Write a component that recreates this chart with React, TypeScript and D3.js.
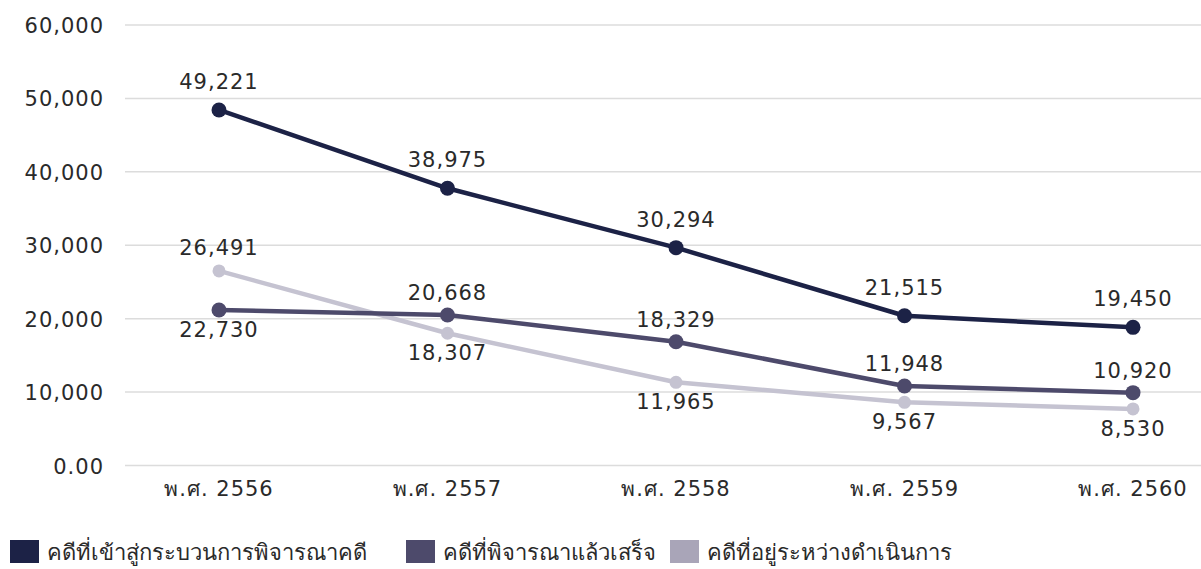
import React, { useEffect, useRef } from 'react'
import * as d3 from 'd3'

// years on the x axis
const years = ['พ.ศ. 2556', 'พ.ศ. 2557', 'พ.ศ. 2558', 'พ.ศ. 2559', 'พ.ศ. 2560']

// plotted values
const intake = [48430, 37760, 29670, 20400, 18820]
const finished = [21180, 20500, 16860, 10830, 9920]
const pending = [26500, 18010, 11330, 8610, 7700]

// the numbers written next to each point
const intakeLabels = ['49,221', '38,975', '30,294', '21,515', '19,450']
const finishedLabels = ['22,730', '20,668', '18,329', '11,948', '10,920']
const pendingLabels = ['26,491', '18,307', '11,965', '9,567', '8,530']

const yTicks = [0, 10000, 20000, 30000, 40000, 50000, 60000]
const yTickLabels = ['0.00', '10,000', '20,000', '30,000', '40,000', '50,000', '60,000']

const seriesNames = [
  'คดีที่เข้าสู่กระบวนการพิจารณาคดี',
  'คดีที่พิจารณาแล้วเสร็จ',
  'คดีที่อยู่ระหว่างดำเนินการ'
]

const W = 1201
const H = 569
const FONT = '"DejaVu Sans", sans-serif'

export default function App() {
  const ref = useRef<SVGSVGElement>(null)

  useEffect(() => {
    const svg = d3.select(ref.current)
    svg.selectAll('*').remove()

    let x = d3.scalePoint().domain(years).range([219, 1133])
    let y = d3.scaleLinear().domain([0, 60000]).range([465.5, 25])

    // grid
    svg.append('g').selectAll('line').data(yTicks).join('line')
      .attr('x1', 125).attr('x2', W)
      .attr('y1', d => y(d)).attr('y2', d => y(d))
      .attr('stroke', '#dcdcdc').attr('stroke-width', 1.5)

    svg.append('g').selectAll('text').data(yTicks).join('text')
      .text((d, i) => yTickLabels[i])
      .attr('x', 104).attr('y', d => y(d) + 8)
      .attr('text-anchor', 'end')
      .attr('font-size', 21).attr('letter-spacing', 1)
      .attr('fill', '#2a2a2a').style('font-family', FONT)

    svg.append('g').selectAll('text').data(years).join('text')
      .text(d => d)
      .attr('x', d => x(d)).attr('y', 496)
      .attr('text-anchor', 'middle')
      .attr('font-size', 21).attr('letter-spacing', 1)
      .attr('fill', '#2a2a2a').style('font-family', FONT)

    let series = [
      { vals: intake, labels: intakeLabels, line: '#1c2246', legend: '#1c2246', r: 7.5, up: 21, place: ['up', 'up', 'up', 'up', 'up'] },
      { vals: finished, labels: finishedLabels, line: '#4d4a6b', legend: '#4d4a6b', r: 7.5, up: 15, place: ['down', 'up', 'up', 'up', 'up'] },
      { vals: pending, labels: pendingLabels, line: '#c5c3d1', legend: '#a9a5b8', r: 6.5, up: 16, place: ['up', 'down', 'down', 'down', 'down'] }
    ]

    let lineGen = d3.line<number>()
      .x((d, i) => x(years[i]) as number)
      .y(d => y(d))

    // draw back to front so the dark line sits on top
    series.slice().reverse().forEach(s => {
      let g = svg.append('g')
      g.append('path')
        .attr('d', lineGen(s.vals))
        .attr('fill', 'none')
        .attr('stroke', s.line)
        .attr('stroke-width', 4.5)
        .attr('stroke-linejoin', 'round')
      g.selectAll('circle').data(s.vals).join('circle')
        .attr('cx', (d, i) => x(years[i]) as number)
        .attr('cy', d => y(d))
        .attr('r', s.r)
        .attr('fill', s.line)
    })

    series.forEach(s => {
      svg.append('g').selectAll('text').data(s.vals).join('text')
        .text((d, i) => s.labels[i])
        .attr('x', (d, i) => x(years[i]) as number)
        .attr('y', (d, i) => s.place[i] == 'up' ? y(d) - s.up : y(d) + 27)
        .attr('text-anchor', 'middle')
        .attr('font-size', 21).attr('letter-spacing', 1)
        .attr('fill', '#2a2a2a').style('font-family', FONT)
    })

    // legend
    let legendX = [10, 406, 670]
    let lg = svg.append('g')
    series.forEach((s, i) => {
      lg.append('rect')
        .attr('x', legendX[i]).attr('y', 540)
        .attr('width', 29).attr('height', 23)
        .attr('fill', s.legend)
      lg.append('text')
        .text(seriesNames[i])
        .attr('x', legendX[i] + 37).attr('y', 560)
        .attr('font-size', 22)
        .attr('fill', '#2a2a2a').style('font-family', FONT)
    })
  }, [])

  return (
    <svg ref={ref} width={W} height={H} style={{ position: 'absolute', left: 0, top: 0 }} />
  )
}
